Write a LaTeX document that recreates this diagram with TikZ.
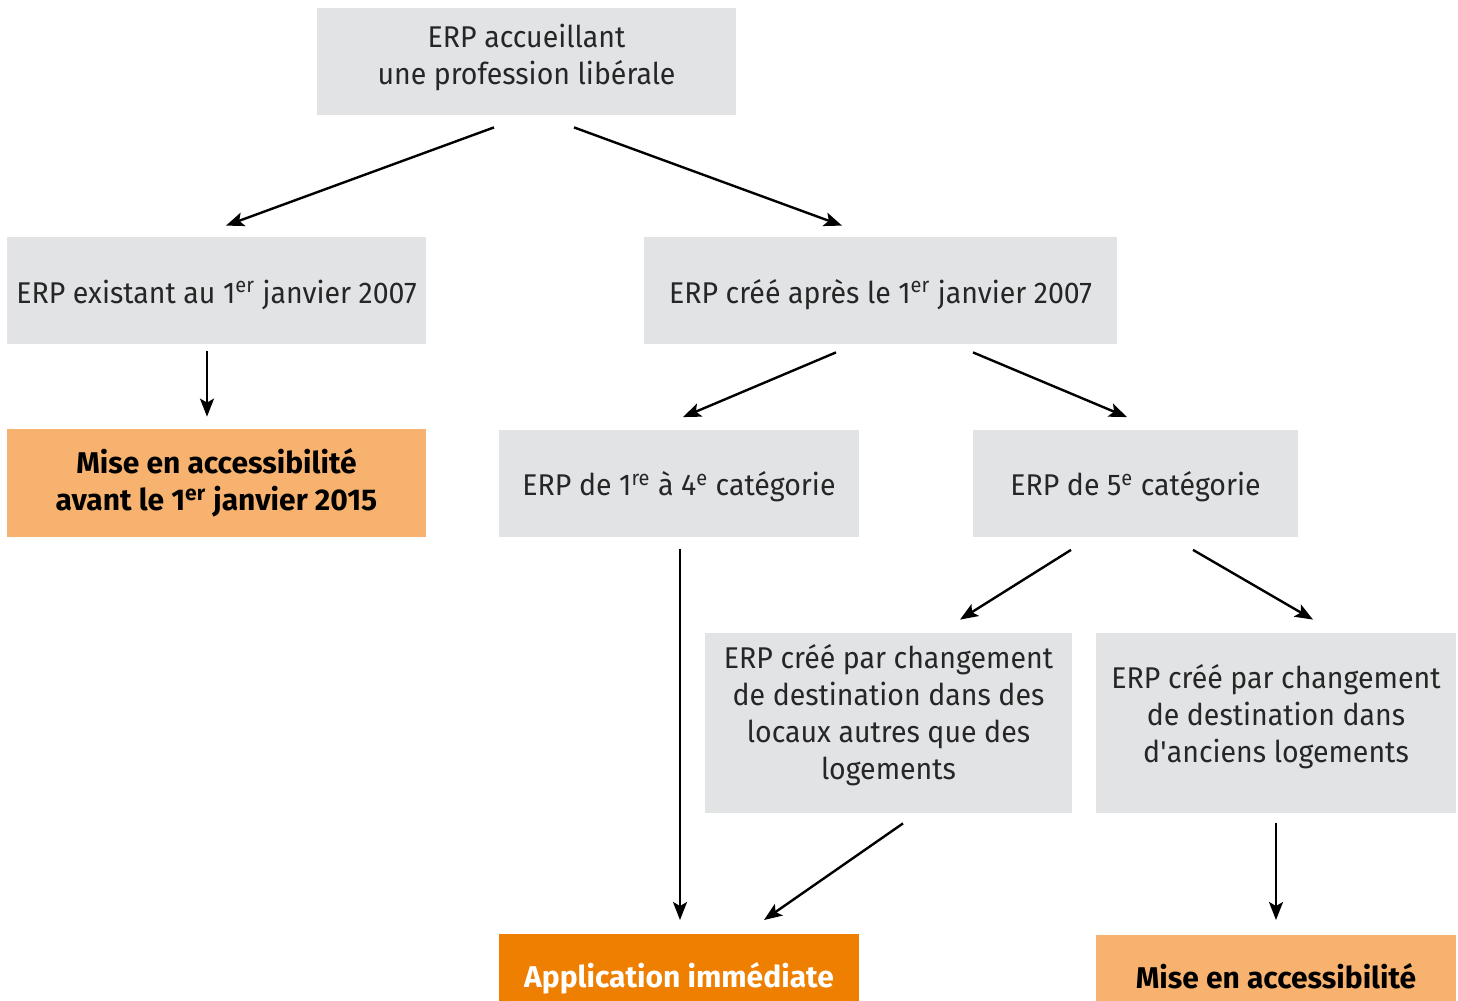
\documentclass[tikz,border=0pt]{standalone}
\usepackage{fontspec}
\setmainfont{Fira Sans}[UprightFeatures={FakeStretch=0.95}, BoldFeatures={FakeStretch=1.0}]
\usepackage{tikz}
\usetikzlibrary{arrows.meta}

\definecolor{boxgray}{HTML}{E2E3E5}
\definecolor{lightorange}{HTML}{F6B26E}
\definecolor{darkorange}{HTML}{EE7F00}

\newcommand{\deepline}[1]{\rule[-#1]{0pt}{#1}}

\tikzset{
  txt/.style={font=\fontsize{15pt}{18.5pt}\selectfont},
  box/.style={txt, fill=boxgray, align=center, inner sep=0pt, minimum height=53.5pt, text=black!85},
  onebox/.style={box, text height=16pt, text depth=3.5pt},
  tallbox/.style={box, minimum height=90pt},
  hotbox/.style={txt, fill=lightorange, align=center, inner sep=0pt, minimum height=54pt, font=\fontsize{15pt}{18.5pt}\selectfont\bfseries},
  endbox/.style={anchor=north, inner xsep=0pt, inner ysep=16.5pt, text height=10pt, text depth=3pt, font=\fontsize{15pt}{18pt}\selectfont\bfseries},
  arr/.style={-{Stealth[length=9pt,width=7pt,inset=2pt]}, line width=1.2pt}
}

\begin{document}
\begin{tikzpicture}[x=0.5pt,y=-0.5pt]
    \clip (0,0) rectangle (1458,1001);
    \node[box, minimum width=209.5pt] (top) at (526.5,61.5) {ERP accueillant\\une profession libérale\deepline{7.5pt}};
    \node[onebox, minimum width=209.5pt] (existant) at (216.5,290.5) {ERP existant au 1\textsuperscript{er} janvier 2007};
    \node[onebox, minimum width=236.5pt] (cree) at (880.5,290.5) {ERP créé après le 1\textsuperscript{er} janvier 2007};
    \node[hotbox, minimum width=209.5pt] (avant) at (216.5,483) {Mise en accessibilité\\avant le 1\textsuperscript{er} janvier 2015};
    \node[onebox, minimum width=180pt] (cat14) at (679,483) {ERP de 1\textsuperscript{re} à 4\textsuperscript{e} catégorie};
    \node[onebox, minimum width=162.5pt] (cat5) at (1135.5,483) {ERP de 5\textsuperscript{e} catégorie};
    \node[tallbox, minimum width=183.5pt] (locaux) at (888.5,723) {ERP créé par changement\\de destination dans des\\locaux autres que des\\logements\deepline{11.5pt}};
    \node[tallbox, minimum width=180pt] (logements) at (1276,723) {ERP créé par changement\\de destination dans\\d\textquotesingle anciens logements\deepline{9.5pt}};
    \node[endbox, fill=darkorange, text=white, minimum width=180pt] (immediate) at (679,934) {Application immédiate};
    \node[endbox, fill=lightorange, minimum width=180pt] (mise) at (1276,935) {Mise en accessibilité};

    \draw[arr] ([shift={(-32.5,12)}]top.south) -- ([shift={(9.5,-11)}]existant.north);
    \draw[arr] ([shift={(47.5,12)}]top.south) -- ([shift={(-38.5,-11)}]cree.north);
    \draw[arr] ([shift={(-9.5,7)}]existant.south) -- ([shift={(-9.5,-12)}]avant.north);
    \draw[arr] ([shift={(-44.5,8)}]cree.south) -- ([shift={(4,-12)}]cat14.north);
    \draw[arr] ([shift={(92.5,8)}]cree.south) -- ([shift={(-8.5,-12)}]cat5.north);
    \draw[arr] ([shift={(1,12)}]cat14.south) -- ([shift={(1,-14)}]immediate.north);
    \draw[arr] ([shift={(-64.5,13)}]cat5.south) -- ([shift={(71.5,-13)}]locaux.north);
    \draw[arr] ([shift={(57.5,13)}]cat5.south) -- ([shift={(37,-13)}]logements.north);
    \draw[arr] ([shift={(14.5,10)}]locaux.south) -- ([shift={(85,-14)}]immediate.north);
    \draw[arr] ([shift={(0,10)}]logements.south) -- ([shift={(0,-15)}]mise.north);
\end{tikzpicture}
\end{document}
